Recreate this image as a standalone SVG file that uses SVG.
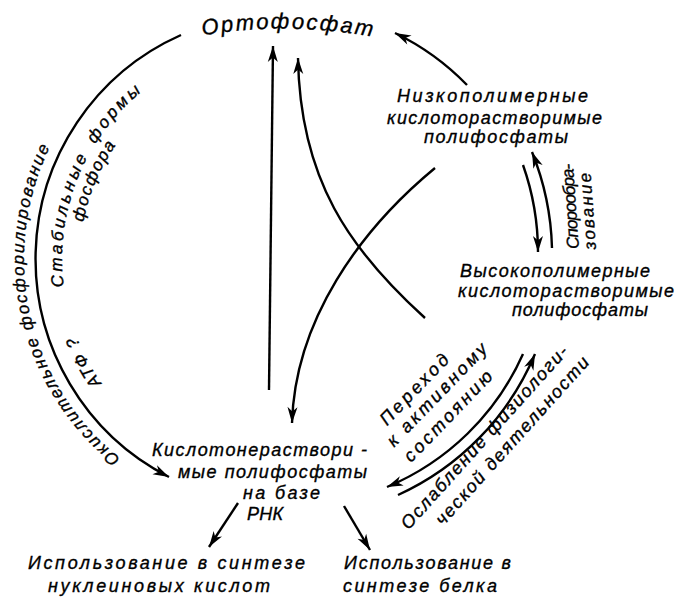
<svg xmlns="http://www.w3.org/2000/svg" width="676" height="599" viewBox="0 0 676 599">
<style>
.t{font-family:"Liberation Sans",Arial,sans-serif;font-style:italic;font-size:18px;fill:#000;stroke:#000;stroke-width:0.35px}
.c{fill:none;stroke:#000;stroke-width:2.4}
</style>
<defs>
<marker id="ah" viewBox="-17 -6 18 12" refX="0" refY="0" markerWidth="18" markerHeight="12" markerUnits="userSpaceOnUse" orient="auto"><path d="M0,0 L-16,-5 L-11.5,0 L-16,5 Z" fill="#000"/></marker>
<path id="pTitle" d="M196,37 Q286,18 400,42"/>
<path id="pOuter" d="M151,479 A254,254 0 0 1 151,39"/>
<path id="pIn1" d="M170,446 A216,216 0 0 1 170,72"/>
<path id="pIn2" d="M179,430.5 A198,198 0 0 1 179,87.5"/>
</defs>
<rect width="676" height="599" fill="#fff"/>
<g id="connectors">
<path class="c" d="M181,35 A245,245 0 0 0 169,477" marker-end="url(#ah)"/>
<path class="c" d="M467,85 A255,255 0 0 0 395,33" marker-end="url(#ah)"/>
<path class="c" d="M269,390 L273,46" marker-end="url(#ah)"/>
<path class="c" d="M425,318 C350,250 300,180 298,58" marker-end="url(#ah)"/>
<path class="c" d="M435,168 C360,230 295,320 292,423" marker-end="url(#ah)"/>
<path class="c" d="M523,165 A262,262 0 0 1 538,252" marker-end="url(#ah)"/>
<path class="c" d="M552,248 A275,275 0 0 0 532,152" marker-end="url(#ah)"/>
<path class="c" d="M523,354 A258,258 0 0 1 387,487" marker-end="url(#ah)"/>
<path class="c" d="M398,495 A270,270 0 0 0 535,354" marker-end="url(#ah)"/>
<path class="c" d="M238,503 L209,547" marker-end="url(#ah)"/>
<path class="c" d="M344,506 L370,550" marker-end="url(#ah)"/>
</g>
<g id="orthophosphate">
<text class="t" style="font-size:22px;letter-spacing:2.2px"><textPath href="#pTitle" startOffset="7">Ортофосфат</textPath></text>
</g>
<g id="low-polymer">
<text class="t" x="397" y="102" textLength="191" lengthAdjust="spacing">Низкополимерные</text>
<text class="t" x="387" y="124" textLength="215" lengthAdjust="spacing">кислоторастворимые</text>
<text class="t" x="424" y="143" textLength="144" lengthAdjust="spacing">полифосфаты</text>
</g>
<g id="high-polymer">
<text class="t" x="460" y="277" textLength="190" lengthAdjust="spacing">Высокополимерные</text>
<text class="t" x="458" y="297" textLength="216" lengthAdjust="spacing">кислоторастворимые</text>
<text class="t" x="512" y="316" textLength="136" lengthAdjust="spacing">полифосфаты</text>
</g>
<g id="acid-insoluble">
<text class="t" x="152" y="456" textLength="215" lengthAdjust="spacing">Кислотонераствори -</text>
<text class="t" x="178" y="478" textLength="189" lengthAdjust="spacing">мые полифосфаты</text>
<text class="t" x="243" y="499" textLength="77" lengthAdjust="spacing">на базе</text>
<text class="t" x="247" y="520" textLength="36" lengthAdjust="spacing">РНК</text>
</g>
<g id="nucleic-synthesis">
<text class="t" x="28" y="569" textLength="277" lengthAdjust="spacing">Использование в синтезе</text>
<text class="t" x="48" y="592" textLength="222" lengthAdjust="spacing">нуклеиновых кислот</text>
</g>
<g id="protein-synthesis">
<text class="t" x="344" y="569" textLength="167" lengthAdjust="spacing">Использование в</text>
<text class="t" x="343" y="592" textLength="154" lengthAdjust="spacing">синтезе белка</text>
</g>
<g id="label-sporulation" transform="translate(570,207) rotate(-94)">
<text class="t" style="font-size:17px" x="-42" y="6" textLength="85" lengthAdjust="spacing">Спорообра-</text>
<text class="t" style="font-size:17px" x="-44" y="23" textLength="77" lengthAdjust="spacing">зование</text>
</g>
<g id="label-activation" transform="translate(415,390) rotate(-46)">
<text class="t" x="-45.5" y="5" textLength="91" lengthAdjust="spacing">Переход</text>
<text class="t" x="-56.3" y="25" textLength="136" lengthAdjust="spacing">к активному</text>
<text class="t" x="-55.3" y="48" textLength="119" lengthAdjust="spacing">состоянию</text>
</g>
<g id="label-weakening" transform="translate(485,438) rotate(-48)">
<text class="t" x="-120" y="5" textLength="240" lengthAdjust="spacing">Ослабление физиологи-</text>
<text class="t" x="-94" y="28" textLength="220" lengthAdjust="spacing">ческой деятельности</text>
</g>
<g id="label-oxidative">
<text class="t" style="font-size:17px;letter-spacing:1.8px"><textPath href="#pOuter" startOffset="37">Окислительное фосфорилирование</textPath></text>
</g>
<g id="label-stable">
<text class="t" style="font-size:17px;letter-spacing:3.2px;word-spacing:4px" text-anchor="middle"><textPath href="#pIn1" startOffset="309">Стабильные формы</textPath></text>
<text class="t" style="font-size:17px;letter-spacing:1.5px" text-anchor="middle"><textPath href="#pIn2" startOffset="287">фосфора</textPath></text>
</g>
<g id="label-atp">
<text class="t" style="font-size:17px;letter-spacing:1.5px" text-anchor="middle"><textPath href="#pIn1" startOffset="121">АТФ ?</textPath></text>
</g>
</svg>
